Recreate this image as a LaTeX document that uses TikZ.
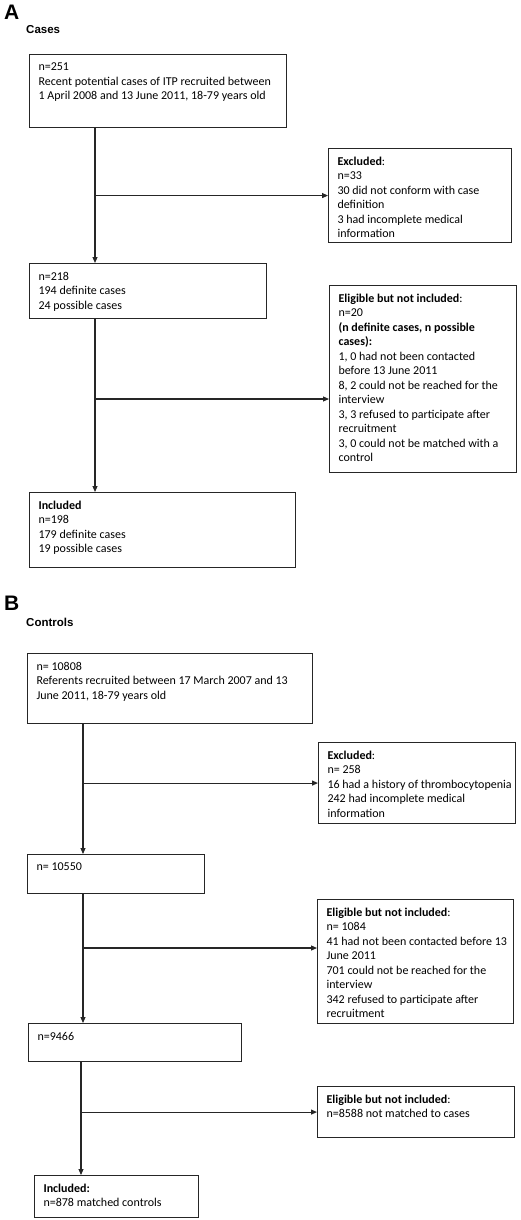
\documentclass[tikz,border=0pt]{standalone}
\usepackage{fontspec}
\setmainfont{Carlito}
\newfontfamily\headfont{Liberation Sans}
\usetikzlibrary{arrows.meta}
\newcommand\boxtext[3]{\parbox[c][#2][t]{#1}{\vspace*{8.5pt}\leftskip=9pt\rightskip=0pt plus 1fil\parfillskip=0pt plus 1fil\hbadness=10000\hfuzz=50pt\fontsize{12}{14.5}\selectfont #3\par\vfill}}
\tikzset{
  fbox/.style={draw=black!85, line width=1.1pt, inner sep=0pt, anchor=north west},
  flow/.style={draw=black!85, line width=1.1pt, -{Triangle[length=6pt,width=5pt]}},
  panel/.style={font=\headfont\bfseries\fontsize{21}{21}\selectfont, anchor=base west, inner sep=0},
  sub/.style={font=\headfont\bfseries\fontsize{11.5}{12}\selectfont, anchor=base west, inner sep=0}
}
\begin{document}
\begin{tikzpicture}[x=1pt,y=-1pt]
\useasboundingbox (0,0) rectangle (520,1220);
\fill[white] (0,0) rectangle (520,1220);
% Panel A
\node[panel] (labA) at (4,20) {A};
\node[sub] (cases) at (26,34) {Cases};
\node[fbox] (a1) at (29,54) {\boxtext{257pt}{73pt}{n=251\\Recent potential cases of ITP recruited between\\1 April 2008 and 13 June 2011, 18-79 years old}};
\node[fbox] (ex1) at (328,148) {\boxtext{183pt}{94pt}{\textbf{Excluded}:\\n=33\\30 did not conform with case\\definition\\3 had incomplete medical\\information}};
\node[fbox] (a2) at (29,263) {\boxtext{237pt}{55pt}{n=218\\194 definite cases\\24 possible cases}};
\node[fbox] (ea) at (329,285) {\boxtext{187pt}{187pt}{\textbf{Eligible but not included}:\\n=20\\\textbf{(n definite cases, n possible}\\\textbf{cases):}\\1, 0 had not been contacted\\before 13 June 2011\\8, 2 could not be reached for the\\interview\\3, 3 refused to participate after\\recruitment\\3, 0 could not be matched with a\\control}};
\node[fbox] (a3) at (29,492) {\boxtext{266pt}{75pt}{\textbf{Included}\\n=198\\179 definite cases\\19 possible cases}};
\coordinate (xa) at (95,0);
\coordinate (ya) at (0,399);
\draw[flow] (xa |- a1.south) -- (xa |- a2.north);
\draw[flow] (xa |- a2.south) -- (xa |- a3.north);
\draw[flow] (xa |- ex1.west) -- (ex1.west);
\draw[flow] (xa |- ya) -- (ea.west |- ya);
% Panel B
\node[panel] (labB) at (4,610) {B};
\node[sub] (controls) at (26,626) {Controls};
\node[fbox] (b1) at (27,653) {\boxtext{285pt}{70pt}{n= 10808\\Referents recruited between 17 March 2007 and 13\\June 2011, 18-79 years old}};
\node[fbox] (exb) at (318,742) {\boxtext{197pt}{81pt}{\textbf{Excluded}:\\n= 258\\16 had a history of thrombocytopenia\\242 had incomplete medical\\information}};
\node[fbox] (b2) at (27,854) {\boxtext{177pt}{39pt}{n= 10550}};
\node[fbox] (eb) at (317,899) {\boxtext{196pt}{124pt}{\textbf{Eligible but not included}:\\n= 1084\\41 had not been contacted before 13\\June 2011\\701 could not be reached for the\\interview\\342 refused to participate after\\recruitment}};
\node[fbox] (b3) at (28,1023) {\boxtext{213pt}{38pt}{n=9466}};
\node[fbox] (eb2) at (317,1086) {\boxtext{197pt}{51pt}{\textbf{Eligible but not included}:\\n=8588 not matched to cases}};
\node[fbox] (b4) at (34,1175) {\boxtext{164pt}{42pt}{\textbf{Included:}\\n=878 matched controls}};
\coordinate (xb) at (83,0);
\coordinate (xc) at (81,0);
\coordinate (yb) at (0,948);
\draw[flow] (xb |- b1.south) -- (xb |- b2.north);
\draw[flow] (xb |- b2.south) -- (xb |- b3.north);
\draw[flow] (xc |- b3.south) -- (xc |- b4.north);
\draw[flow] (xb |- exb.west) -- (exb.west);
\draw[flow] (xb |- yb) -- (eb.west |- yb);
\draw[flow] (xc |- eb2.west) -- (eb2.west);
\end{tikzpicture}
\end{document}
